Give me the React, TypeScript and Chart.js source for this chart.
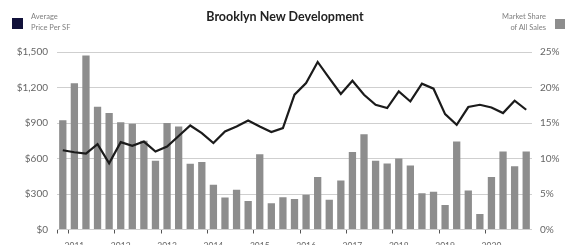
import React, { useEffect, useRef } from "react";
import { Chart, registerables } from "chart.js";

Chart.register(...registerables);

const quarters = [
  "Q4 2010",
  "Q1 2011", "Q2 2011", "Q3 2011", "Q4 2011",
  "Q1 2012", "Q2 2012", "Q3 2012", "Q4 2012",
  "Q1 2013", "Q2 2013", "Q3 2013", "Q4 2013",
  "Q1 2014", "Q2 2014", "Q3 2014", "Q4 2014",
  "Q1 2015", "Q2 2015", "Q3 2015", "Q4 2015",
  "Q1 2016", "Q2 2016", "Q3 2016", "Q4 2016",
  "Q1 2017", "Q2 2017", "Q3 2017", "Q4 2017",
  "Q1 2018", "Q2 2018", "Q3 2018", "Q4 2018",
  "Q1 2019", "Q2 2019", "Q3 2019", "Q4 2019",
  "Q1 2020", "Q2 2020", "Q3 2020", "Q4 2020",
];

// Market share of all sales (%), bars, right axis
const marketShare = [
  15.4, 20.6, 24.5, 17.3, 16.4, 15.1, 14.9, 12.5, 9.7, 15.0,
  14.5, 9.25, 9.5, 6.3, 4.5, 5.6, 4.0, 10.6, 3.7, 4.55,
  4.3, 4.9, 7.4, 4.2, 6.9, 10.9, 13.4, 9.7, 9.3, 10.0,
  9.0, 5.1, 5.3, 3.45, 12.4, 5.5, 2.2, 7.4, 11.0, 8.9,
  11.0,
];

// Average price per SF ($), line, left axis
const avgPrice = [
  670, 653, 642, 721, 560, 738, 707, 743, 659, 701,
  790, 879, 814, 730, 828, 870, 921, 870, 823, 857,
  1140, 1238, 1416, 1280, 1145, 1257, 1139, 1054, 1026, 1167,
  1082, 1232, 1190, 975, 885, 1035, 1054, 1031, 984, 1088,
  1012,
];

const leftTicks = [0, 300, 600, 900, 1200, 1500];
const rightTicks = [0, 5, 10, 15, 20, 25];

const FONT = "Lato, 'Open Sans', sans-serif";

export default function App() {
  const canvasRef = useRef<HTMLCanvasElement | null>(null);

  useEffect(() => {
    document.body.style.margin = "0";
    const canvas = canvasRef.current;
    if (!canvas) return;
    const isYear = (i: number) => i % 4 === 1;
    const chart = new Chart(canvas, {
      data: {
        labels: quarters,
        datasets: [
          {
            type: "line",
            label: "Average Price Per SF",
            data: avgPrice,
            yAxisID: "y",
            borderColor: "#1b1b1b",
            borderWidth: 2.2,
            pointRadius: 0,
            tension: 0,
            order: 0,
          },
          {
            type: "bar",
            label: "Market Share of All Sales",
            data: marketShare,
            yAxisID: "y1",
            backgroundColor: "#8d8d8d",
            barPercentage: 0.63,
            categoryPercentage: 1,
            order: 1,
          },
        ],
      },
      options: {
        responsive: false,
        animation: false,
        layout: { padding: { top: 52, left: 0, right: 0, bottom: 0 } },
        plugins: { legend: { display: false }, tooltip: { enabled: false } },
        scales: {
          x: {
            type: "category",
            offset: true,
            border: { display: false },
            grid: {
              drawOnChartArea: false,
              drawTicks: true,
              tickLength: 4,
              color: (ctx: any) =>
                isYear(ctx.index) || ctx.index === 0 ? "#555" : "rgba(0,0,0,0)",
              lineWidth: 1,
            },
            ticks: {
              autoSkip: false,
              maxRotation: 0,
              minRotation: 0,
              padding: 8,
              color: "#666",
              font: { family: FONT, size: 8.5 },
              callback: (_v: any, i: number) =>
                isYear(i) ? quarters[i].slice(3) : "",
            },
            afterFit: (s: any) => {
              s.height = 15.5;
            },
          },
          y: {
            position: "left",
            min: 0,
            max: 1500,
            border: { display: false },
            grid: { color: "#cfcfcf", lineWidth: 1, drawTicks: false },
            afterBuildTicks: (s: any) => {
              s.ticks = leftTicks.map((v) => ({ value: v }));
            },
            ticks: {
              padding: 9,
              color: "#666",
              font: { family: FONT, size: 10 },
              callback: (v: any) => "$" + Number(v).toLocaleString("en-US"),
            },
            afterFit: (s: any) => {
              s.width = 57;
            },
          },
          y1: {
            position: "right",
            min: 0,
            max: 25,
            border: { display: false },
            grid: { drawOnChartArea: false, drawTicks: false },
            afterBuildTicks: (s: any) => {
              s.ticks = rightTicks.map((v) => ({ value: v }));
            },
            ticks: {
              padding: 8,
              color: "#666",
              font: { family: FONT, size: 10 },
              callback: (v: any) => v + "%",
            },
            afterFit: (s: any) => {
              s.width = 38;
            },
          },
        },
      },
    } as any);
    return () => chart.destroy();
  }, []);

  const small: React.CSSProperties = {
    position: "absolute",
    fontFamily: FONT,
    fontSize: 7.5,
    lineHeight: "10.5px",
    color: "#808080",
    whiteSpace: "nowrap",
  };

  return (
    <div style={{ position: "relative", width: 570, height: 245, overflow: "hidden", background: "#fff" }}>
      <canvas ref={canvasRef} width={570} height={245} style={{ position: "absolute", left: 0, top: 0 }} />
      <div style={{ position: "absolute", left: 12, top: 18, width: 11, height: 11, background: "#11113a" }} />
      <div style={{ ...small, left: 31, top: 12 }}>
        Average
        <br />
        Price Per SF
      </div>
      <div
        style={{
          position: "absolute",
          left: 0,
          width: 570,
          top: 9,
          textAlign: "center",
          fontFamily: FONT,
          fontWeight: 700,
          fontSize: 12.5,
          color: "#222",
        }}
      >
        Brooklyn New Development
      </div>
      <div style={{ ...small, right: 24, top: 12, textAlign: "right" }}>
        Market Share
        <br />
        of All Sales
      </div>
      <div style={{ position: "absolute", left: 555, top: 19, width: 10, height: 10, background: "#8d8d8d" }} />
    </div>
  );
}
